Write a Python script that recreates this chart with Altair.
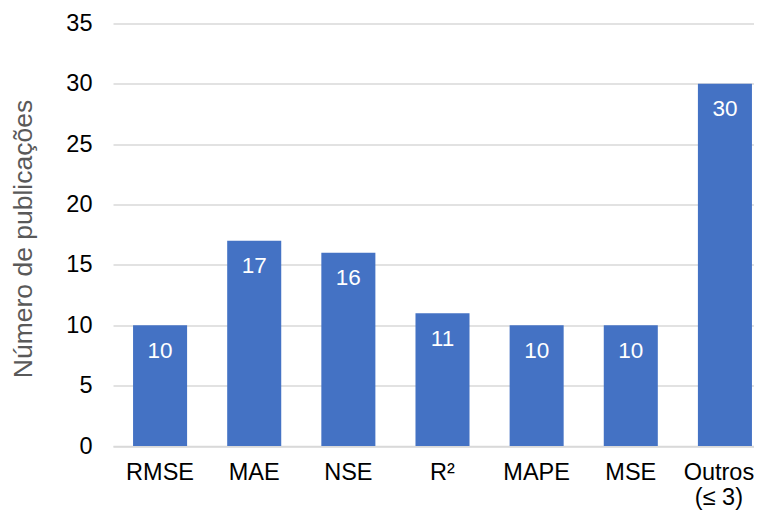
import altair as alt
import pandas as pd

categories = ["RMSE", "MAE", "NSE", "R²", "MAPE", "MSE", "Outros\n(≤ 3)"]
values = [10, 17, 16, 11, 10, 10, 30]

df = pd.DataFrame({"metrica": categories, "n": values})

FONT = "Liberation Sans"
PLOT_W = 641
PLOT_H = 422.5

x = alt.X(
    "metrica:N",
    sort=categories,
    scale=alt.Scale(paddingInner=0.426, paddingOuter=0.213, range=[0, 659]),
    axis=alt.Axis(
        title=None,
        labelAngle=0,
        labelFont=FONT,
        labelFontSize=23.5,
        labelColor="#000000",
        labelPadding=14,
        labelLineHeight=25,
        labelExpr="split(datum.label, '\\n')",
        labelOffset={
            "condition": {"test": "indexof(datum.value, 'Outros') >= 0", "value": -6},
            "value": 0,
        },
        ticks=False,
        domainColor="#D9D9D9",
        domainWidth=1.5,
        grid=False,
    ),
)

y = alt.Y(
    "n:Q",
    scale=alt.Scale(domain=[0, 35], nice=False),
    axis=alt.Axis(
        values=[0, 5, 10, 15, 20, 25, 30, 35],
        title="Número de publicações",
        titleFont=FONT,
        titleFontSize=26.5,
        titleFontWeight="normal",
        titleColor="#595959",
        titleX=-90,
        titleY=215,
        titleAngle=-90,
        titleAlign="center",
        titleBaseline="middle",
        labelFont=FONT,
        labelFontSize=23.5,
        labelColor="#000000",
        labelPadding=21,
        ticks=False,
        domain=False,
        gridColor="#D9D9D9",
        gridWidth=1.5,
    ),
)

bars = alt.Chart(df).mark_bar(color="#4472C4").encode(x=x, y=y)

labels = alt.Chart(df).mark_text(
    color="white", font=FONT, fontSize=22.5, baseline="middle", dy=25.5
).encode(x=x, y=y, text="n:Q")

chart = (
    alt.layer(bars, labels)
    .properties(
        width=PLOT_W,
        height=PLOT_H,
        background="white",
        autosize=alt.AutoSizeParams(type="none"),
        padding={"left": 105, "top": 15.5, "right": 0, "bottom": 64},
    )
    .configure_view(strokeWidth=0, stroke="transparent")
)

chart.save("out.html", embed_options={"renderer": "svg", "actions": False})
